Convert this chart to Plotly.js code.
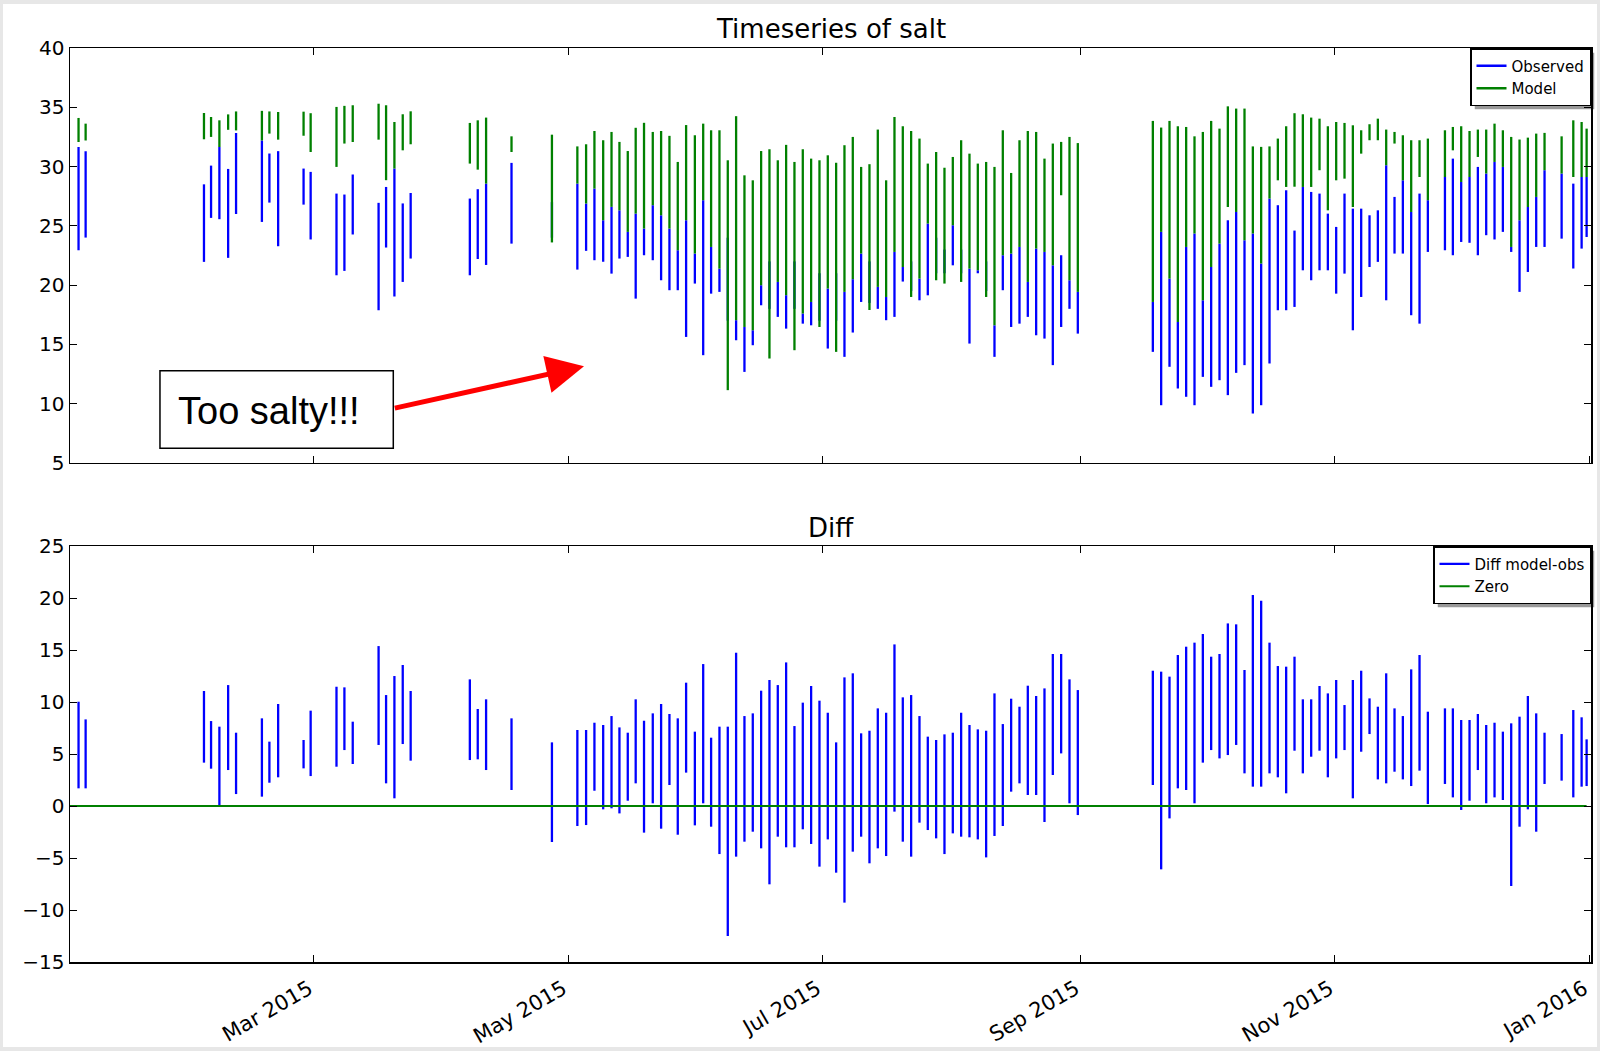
<!DOCTYPE html>
<html>
<head>
<meta charset="utf-8">
<script src="https://cdn.plot.ly/plotly-3.0.1.min.js"></script>
<style>
  html, body { margin: 0; padding: 0; background: #e7e7e7; }
  #chart { position: absolute; left: 3px; top: 4px; width: 1594px; height: 1043px; background: #fff; }
</style>
</head>
<body>
<div id="chart"></div>
<script>
// ---- data (day of year 2015, fractional) ----
const spikeDay = [
  2.5,4.2,32.6,34.3,36.3,38.4,40.3,46.5,48.3,50.4,
  56.5,58.2,64.4,66.3,68.3,74.5,76.3,78.3,80.3,82.2,
  96.4,98.3,100.3,106.4,116.1,122.2,124.3,126.3,128.4,130.4,
  132.3,134.3,136.2,138.2,140.3,142.3,144.3,146.3,148.3,150.4,
  152.4,154.3,156.3,158.3,160.3,162.3,164.3,166.3,168.3,170.3,
  172.3,174.3,176.3,178.3,180.3,182.3,184.3,186.3,188.3,190.3,
  192.3,194.3,196.3,198.3,200.3,202.3,204.3,206.3,208.3,210.3,
  212.3,214.3,216.3,218.3,220.3,222.3,224.3,226.3,228.3,230.3,
  232.3,234.3,236.3,238.3,240.3,242.3,260.3,262.3,264.3,266.3,
  268.3,270.3,272.3,274.3,276.3,278.3,280.3,282.3,284.3,286.3,
  288.3,290.3,292.3,294.3,296.3,298.3,300.3,302.3,304.3,306.3,
  308.3,310.3,312.3,314.3,316.3,318.3,320.3,322.3,324.3,326.3,
  330.4,332.3,334.3,336.3,338.3,340.3,342.3,344.3,346.3,348.3,
  350.3,352.3,354.3,358.4,361.2,363.2,364.4
];
const modelHigh = [
  34.1,33.62,34.52,34.18,33.9,34.4,34.65,34.7,34.65,34.6,
  34.63,34.5,35.03,35.12,35.17,35.3,35.17,33.76,34.41,34.66,
  33.68,33.9,34.13,32.55,32.69,31.7,31.88,33.0,32.22,32.92,
  32.08,31.31,33.27,33.69,32.92,33.0,32.59,30.39,33.5,32.64,
  33.62,33.06,33.06,30.53,34.25,29.26,28.84,31.31,31.46,30.53,
  31.83,30.39,31.46,30.67,30.53,30.95,30.32,31.8,32.5,29.97,
  30.2,33.12,28.84,34.18,33.4,33.0,32.36,30.25,31.23,29.9,
  30.81,32.22,31.09,30.25,30.39,29.97,33.06,29.46,32.22,33.0,
  32.92,30.67,31.94,32.08,32.5,31.98,33.85,33.29,33.85,33.4,
  33.34,32.55,32.92,33.85,33.2,35.08,34.89,34.89,31.7,31.66,
  31.7,32.36,33.4,34.5,34.41,34.13,34.04,33.4,33.76,33.68,
  33.48,33.06,33.57,34.04,33.12,32.92,32.64,32.22,32.22,32.36,
  33.06,33.34,33.4,33.0,33.12,33.12,33.62,33.06,32.5,32.28,
  32.44,32.78,32.84,32.55,33.9,33.76,33.2
];
const modelLow = [
  32.07,32.2,32.3,32.5,31.65,33.1,33.05,32.2,32.78,32.27,
  32.6,31.23,29.97,31.94,32.07,32.27,28.85,29.83,31.37,31.88,
  30.25,29.74,28.56,31.23,23.6,28.56,26.88,28.14,25.47,26.6,
  26.31,24.49,26.03,24.77,26.74,25.89,24.77,22.94,25.47,22.66,
  27.16,23.22,21.39,11.14,17.04,16.47,16.19,19.99,13.81,20.27,
  19.15,14.51,17.6,18.58,16.47,19.71,14.37,19.43,20.5,22.66,
  17.9,19.85,19.0,22.8,21.53,19.0,20.55,25.19,20.41,20.13,
  25.05,20.27,21.39,21.25,19.0,16.61,22.52,22.66,23.22,20.27,
  23.08,22.8,21.67,27.58,20.41,19.43,18.58,24.49,20.55,16.89,
  23.22,24.35,18.72,21.53,23.5,26.59,26.17,23.78,24.35,21.82,
  27.3,28.84,28.28,28.3,28.28,28.28,29.69,26.31,28.84,28.98,
  26.59,31.09,32.22,32.22,30.11,31.94,28.84,26.17,29.12,27.16,
  29.12,31.37,28.7,29.12,30.81,29.41,30.39,29.97,23.22,25.47,
  26.59,27.44,29.69,29.41,29.12,29.12,29.12
];
const obsHigh = [
  31.65,31.29,28.5,30.08,31.65,29.8,32.83,32.2,31.1,31.3,
  29.83,29.55,27.72,27.64,29.33,26.94,28.28,29.83,26.89,27.77,
  27.3,28.09,28.56,30.31,27.0,28.56,26.88,28.14,25.47,26.6,
  26.31,24.49,26.03,24.77,26.74,25.89,24.77,22.94,25.47,22.66,
  27.16,23.22,21.39,24.0,17.04,16.47,16.19,19.99,22.0,20.27,
  19.15,22.0,17.6,18.58,21.0,19.71,21.0,19.43,20.5,22.66,
  22.0,19.85,19.0,22.8,21.53,22.0,20.55,25.19,24.0,23.0,
  25.05,23.0,21.39,21.25,22.0,16.61,22.52,22.66,23.22,20.27,
  23.08,22.8,21.67,22.52,20.41,19.43,18.58,24.49,20.55,16.89,
  23.22,24.35,18.72,21.53,23.5,25.47,26.17,23.78,24.35,21.82,
  27.3,26.74,28.0,24.6,28.28,27.86,27.72,26.03,24.91,27.72,
  26.45,26.45,25.89,26.31,30.11,27.44,28.84,26.17,27.72,27.16,
  29.12,30.67,28.7,29.12,29.97,29.41,30.39,29.97,23.22,25.47,
  26.59,27.44,29.69,29.41,28.56,29.12,29.12
];
const obsLow = [
  22.94,24.01,21.96,25.67,25.56,22.3,26.0,25.33,26.96,23.28,
  26.79,23.85,20.83,21.2,24.27,17.88,23.17,19.04,20.27,22.24,
  20.83,22.2,21.7,23.5,24.0,21.31,22.89,22.1,21.97,20.97,
  22.24,22.38,18.86,22.52,22.1,20.41,19.57,19.57,15.63,20.13,
  14.09,19.28,19.43,17.0,15.35,12.68,14.93,18.3,18.0,17.32,
  16.33,18.0,16.75,16.61,17.0,14.65,17.0,13.95,16.0,18.58,
  18.5,18.0,17.04,17.32,20.3,19.5,18.72,19.14,21.0,21.0,
  21.67,21.0,15.07,21.0,19.5,13.95,19.57,16.47,16.75,17.32,
  15.77,15.49,13.25,16.47,18.0,15.91,14.37,9.87,13.11,11.28,
  10.58,9.87,12.26,11.42,11.98,10.72,12.6,13.25,9.17,9.87,
  13.39,17.88,17.88,18.16,21.25,20.41,21.25,21.25,19.28,20.97,
  16.19,19.0,21.53,21.96,18.72,22.66,22.66,17.46,16.75,22.8,
  22.94,22.52,23.64,23.57,22.52,24.21,23.85,24.49,22.8,19.43,
  21.11,23.22,23.22,23.92,21.4,23.08,24.06
];
const diffHigh = [
  10.03,8.33,11.06,8.17,7.63,11.63,7.05,8.43,6.19,9.81,
  6.35,9.17,11.47,11.41,8.11,15.38,10.67,12.5,13.56,11.06,
  12.18,9.33,10.26,8.43,6.12,7.31,7.31,8.01,7.79,8.65,
  7.56,7.05,10.26,8.2,8.91,9.81,8.85,8.43,11.86,7.15,
  13.65,6.57,7.63,7.63,14.74,8.65,8.91,11.09,12.12,11.63,
  13.81,7.69,9.94,11.54,10.13,8.97,6.12,12.37,12.76,6.99,
  7.24,9.39,8.97,15.54,10.45,10.67,8.65,6.67,6.35,6.89,
  7.05,8.97,7.79,7.37,7.24,10.83,7.88,10.32,9.55,11.57,
  10.58,11.31,14.62,14.62,12.18,11.15,13.01,12.92,12.44,14.52,
  15.32,15.71,16.54,14.36,14.62,17.56,17.47,13.08,20.29,19.74,
  15.71,13.46,13.4,14.36,10.26,10.26,11.54,10.83,12.12,9.71,
  12.12,13.01,10.35,9.55,12.76,9.39,8.65,13.14,14.52,9.07,
  9.39,9.39,8.27,8.27,8.85,7.79,8.01,7.15,7.95,8.59,
  10.58,8.91,7.05,6.92,9.23,8.53,6.41
];
const diffLow = [
  1.7,1.7,4.17,3.59,0.0,3.46,1.15,0.9,2.24,2.76,
  3.62,2.88,3.78,5.38,4.04,5.87,2.18,0.74,5.96,4.36,
  4.42,4.49,3.46,1.54,-3.46,-1.92,-1.83,1.47,-0.32,-0.22,
  -0.71,0.51,2.18,-2.56,0.26,-2.18,2.02,-2.76,3.21,-1.86,
  0.26,-1.99,-4.62,-12.5,-4.87,-3.43,-2.47,-4.07,-7.53,-2.95,
  -3.97,-3.97,-2.24,-3.65,-5.83,-3.21,-6.41,-9.29,-4.39,-2.95,
  -5.51,-4.07,-4.81,-0.54,-3.43,-4.87,-1.6,-2.31,-3.11,-4.62,
  -2.63,-2.95,-3.01,-3.21,-4.94,-2.88,-1.92,1.38,2.18,1.06,
  1.06,-1.54,2.98,5.06,0.26,-0.87,2.02,-6.09,-1.19,1.7,
  1.54,0.26,4.17,5.38,4.58,4.9,5.87,3.14,1.86,1.86,
  3.14,2.76,1.22,5.32,3.14,4.74,5.32,2.76,4.58,5.38,
  0.74,5.22,6.92,2.56,2.18,3.3,2.56,1.92,3.4,0.19,
  2.12,0.83,-0.38,0.51,3.46,0.26,0.83,0.58,-7.69,-1.99,
  -0.32,-2.47,2.12,2.44,0.83,1.86,1.92
];
const zeroDay = [0.45, 364.4];
const zeroValue = [0, 0];
const monthTickDates = ['2015-03-01','2015-05-01','2015-07-01','2015-09-01','2015-11-01','2016-01-01'];
const monthTickLabels = ['Mar 2015','May 2015','Jul 2015','Sep 2015','Nov 2015','Jan 2016'];
const topTitle = 'Timeseries of salt';
const bottomTitle = 'Diff';
const calloutText = 'Too salty!!!';

// ---- helpers ----
function dayToDate(d) {
  const ms = Date.UTC(2015, 0, 1) + d * 86400000;
  return new Date(ms).toISOString().replace('T', ' ').replace('Z', '');
}
function segments(days, lo, hi) {
  const x = [], y = [];
  for (let i = 0; i < days.length; i++) {
    const d = dayToDate(days[i]);
    x.push(d, d, null);
    y.push(lo[i], hi[i], null);
  }
  return {x, y};
}

const BLUE = '#0000ff', GREEN = '#008000', LW = 2.3;
const obs = segments(spikeDay, obsLow, obsHigh);
const mod = segments(spikeDay, modelLow, modelHigh);
const dif = segments(spikeDay, diffLow, diffHigh);

const traces = [
  {x: obs.x, y: obs.y, xaxis: 'x', yaxis: 'y', mode: 'lines', name: 'Observed',
   line: {color: BLUE, width: LW}, legend: 'legend', hoverinfo: 'skip'},
  {x: mod.x, y: mod.y, xaxis: 'x', yaxis: 'y', mode: 'lines', name: 'Model',
   line: {color: GREEN, width: LW}, legend: 'legend', hoverinfo: 'skip'},
  {x: dif.x, y: dif.y, xaxis: 'x2', yaxis: 'y2', mode: 'lines', name: 'Diff model-obs',
   line: {color: BLUE, width: LW}, legend: 'legend2', hoverinfo: 'skip'},
  {x: zeroDay.map(dayToDate), y: zeroValue, xaxis: 'x2', yaxis: 'y2', mode: 'lines', name: 'Zero',
   line: {color: GREEN, width: 2}, legend: 'legend2', hoverinfo: 'skip'}
];

const FONT = 'DejaVu Sans, Verdana, sans-serif';
const xRange = [dayToDate(0.45), dayToDate(365.45)];
const baseAxis = {
  showline: true, linecolor: '#000', linewidth: 1.5, mirror: 'ticks',
  ticks: 'inside', ticklen: 7, tickwidth: 1, tickcolor: '#000',
  showgrid: false, zeroline: false,
  tickfont: {family: FONT, size: 20, color: '#000'}
};
const TOP_DOM = [0.546, 1];
const BOT_DOM = [0, 0.4551];

const legendBase = {
  xref: 'paper', yref: 'paper', x: 1, xanchor: 'right', yanchor: 'top',
  bgcolor: '#fff', bordercolor: '#000', borderwidth: 1.5,
  font: {family: FONT, size: 15, color: '#000'}, itemwidth: 30, tracegroupgap: 0
};

const boxShape = {type: 'rect', xref: 'x', yref: 'y', x0: dayToDate(22.04), x1: dayToDate(78.03),
  y0: 6.25, y1: 12.77, line: {color: '#000', width: 1.5}, fillcolor: '#fff', layer: 'above'};

const layout = {
  width: 1594, height: 1043,
  margin: {l: 67, r: 6, t: 44, b: 85},
  paper_bgcolor: '#fff', plot_bgcolor: '#fff',
  font: {family: FONT, color: '#000'},
  showlegend: true,
  legend: Object.assign({}, legendBase, {y: 1}),
  legend2: Object.assign({}, legendBase, {y: BOT_DOM[1]}),
  xaxis: Object.assign({}, baseAxis, {
    type: 'date', range: xRange, anchor: 'y', domain: [0, 1],
    tickmode: 'array', tickvals: monthTickDates, ticktext: monthTickLabels,
    showticklabels: false
  }),
  yaxis: Object.assign({}, baseAxis, {
    range: [5, 40], tick0: 0, dtick: 5, anchor: 'x', domain: TOP_DOM,
    ticklabelstandoff: 1.5
  }),
  xaxis2: Object.assign({}, baseAxis, {
    type: 'date', range: xRange, anchor: 'y2', domain: [0, 1],
    tickmode: 'array', tickvals: monthTickDates, ticktext: monthTickLabels,
    tickangle: -30, ticklabelshift: -5, ticklabelstandoff: 5,
    tickfont: {family: FONT, size: 21, color: '#000'}
  }),
  yaxis2: Object.assign({}, baseAxis, {
    range: [-15, 25], tick0: 0, dtick: 5, anchor: 'x2', domain: BOT_DOM,
    ticklabelstandoff: 1.5
  }),
  shapes: [boxShape],
  annotations: [
    {xref: 'paper', yref: 'paper', x: 0.5, y: TOP_DOM[1], yanchor: 'middle', yshift: 19,
     text: topTitle, showarrow: false, font: {family: FONT, size: 26, color: '#000'}},
    {xref: 'paper', yref: 'paper', x: 0.5, y: BOT_DOM[1], yanchor: 'middle', yshift: 18,
     text: bottomTitle, showarrow: false, font: {family: FONT, size: 26, color: '#000'}},
    {xref: 'x', yref: 'y', x: dayToDate(25.9), y: 9.4, xanchor: 'left', yanchor: 'middle',
     text: calloutText, showarrow: false,
     font: {family: 'Liberation Sans, Arial, sans-serif', size: 38, color: '#000'}},
    {xref: 'x', yref: 'y', x: dayToDate(123.8), y: 13.16, ax: -190.7, ay: 42.3,
     text: '', showarrow: true, arrowhead: 2, arrowsize: 1.5, arrowwidth: 5, arrowcolor: '#ff0000'}
  ]
};

const gd = document.getElementById('chart');
Plotly.newPlot(gd, traces, layout, {staticPlot: true, displayModeBar: false}).then(function () {
  // drop shadows behind the two legend boxes, placed from the legends' own geometry
  const fl = gd._fullLayout, sz = fl._size;
  const divBox = gd.getBoundingClientRect();
  const shadows = [];
  ['legend', 'legend2'].forEach(function (id) {
    const bg = gd.querySelector('g.' + id + ' rect.bg');
    if (!bg) return;
    const r = bg.getBoundingClientRect();
    const off = 4;
    const px0 = r.left - divBox.left + off, px1 = r.right - divBox.left + off;
    const py0 = r.top - divBox.top + off, py1 = r.bottom - divBox.top + off;
    shadows.push({
      type: 'rect', xref: 'paper', yref: 'paper',
      x0: (px0 - sz.l) / sz.w, x1: (px1 - sz.l) / sz.w,
      y0: 1 - (py1 - sz.t) / sz.h, y1: 1 - (py0 - sz.t) / sz.h,
      line: {width: 0}, fillcolor: 'rgba(0,0,0,0.4)', layer: 'above'
    });
  });
  return Plotly.relayout(gd, {shapes: [boxShape].concat(shadows)});
});
</script>
</body>
</html>
